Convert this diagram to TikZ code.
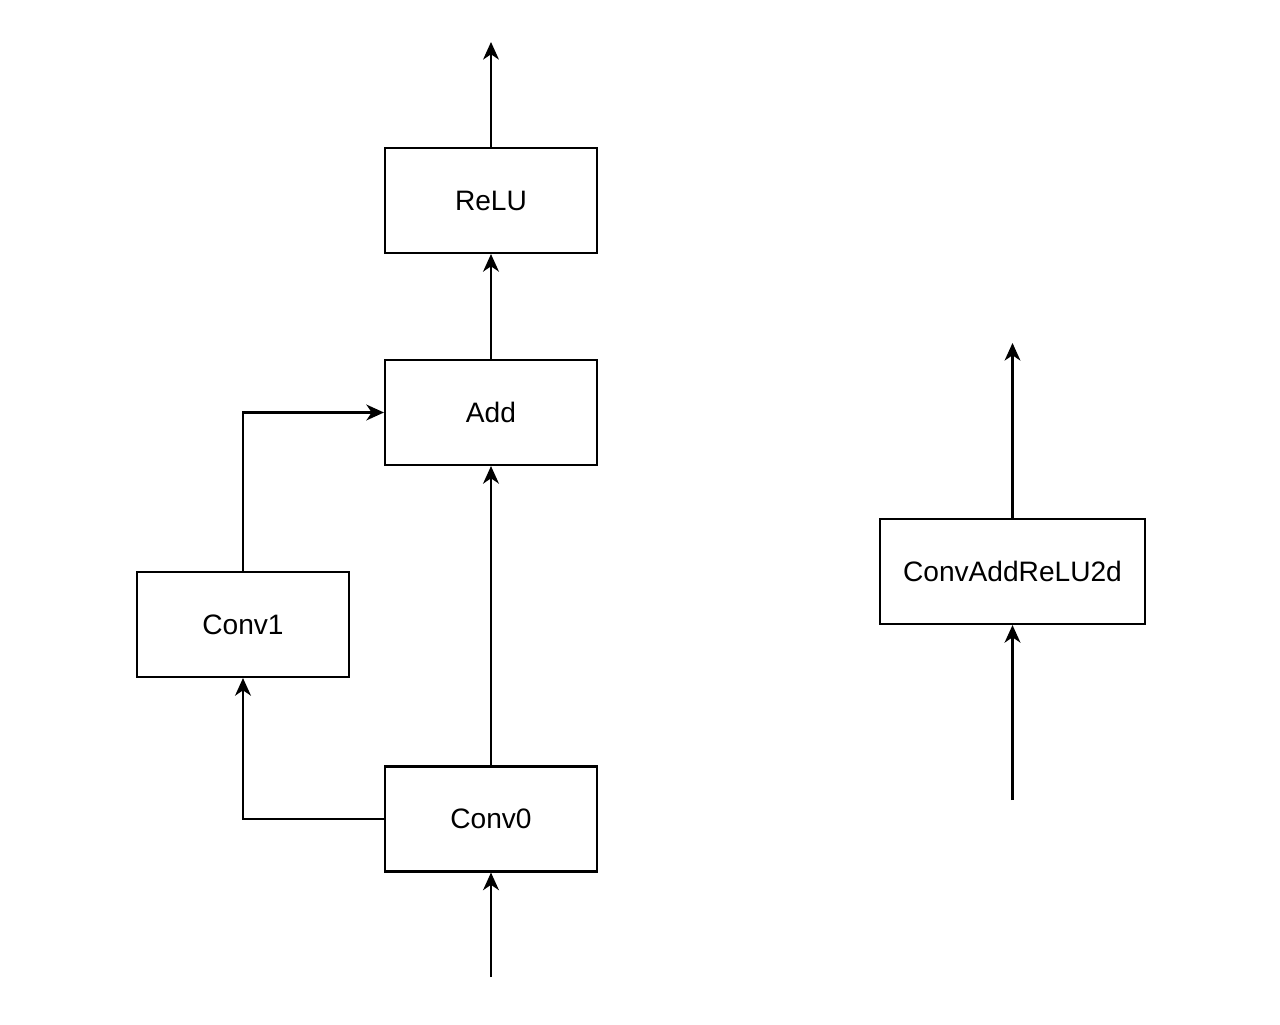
\documentclass[tikz,border=0pt]{standalone}
\usepackage{fontspec}
\setmainfont{Liberation Sans}
\usetikzlibrary{arrows.meta}
\begin{document}
\begin{tikzpicture}[
	every node/.style={font=\fontsize{16}{19}\selectfont},
	opbox/.style={draw, line width=1.2pt, minimum width=4.24cm, minimum height=2.1cm, inner sep=0pt},
	flow/.style={line width=1.2pt, -{Stealth[length=10pt, width=9pt, inset=3pt]}}]
	\useasboundingbox (0,0) rectangle (25.6,-20.5);
	
	\node[opbox] (relu) at (9.82,-4.01) {ReLU};
	\node[opbox] (add) at (9.82,-8.25) {Add};
	\node[opbox] (conv1) at (4.86,-12.49) {Conv1};
	\node[opbox] (conv0) at (9.82,-16.38) {Conv0};
	\node[opbox, minimum width=5.3cm] (fused) at (20.25,-11.43) {ConvAddReLU2d};
	
	\coordinate (out) at (9.82,-0.84);
	\coordinate (in) at (9.82,-19.54);
	\coordinate (fusedin) at (20.25,-16.0);
	\coordinate (fusedout) at (20.25,-6.86);
	
	%left graph
	\draw[flow] (in) -- (conv0);
	\draw[flow] (conv0) -- (add);
	\draw[flow] (conv0.west) -| (conv1.south);
	\draw[flow] (conv1.north) |- (add.west);
	\draw[flow] (add) -- (relu);
	\draw[flow] (relu) -- (out);
	
	%fused
	\draw[flow] (fusedin) -- (fused);
	\draw[flow] (fused) -- (fusedout);
\end{tikzpicture}
\end{document}
